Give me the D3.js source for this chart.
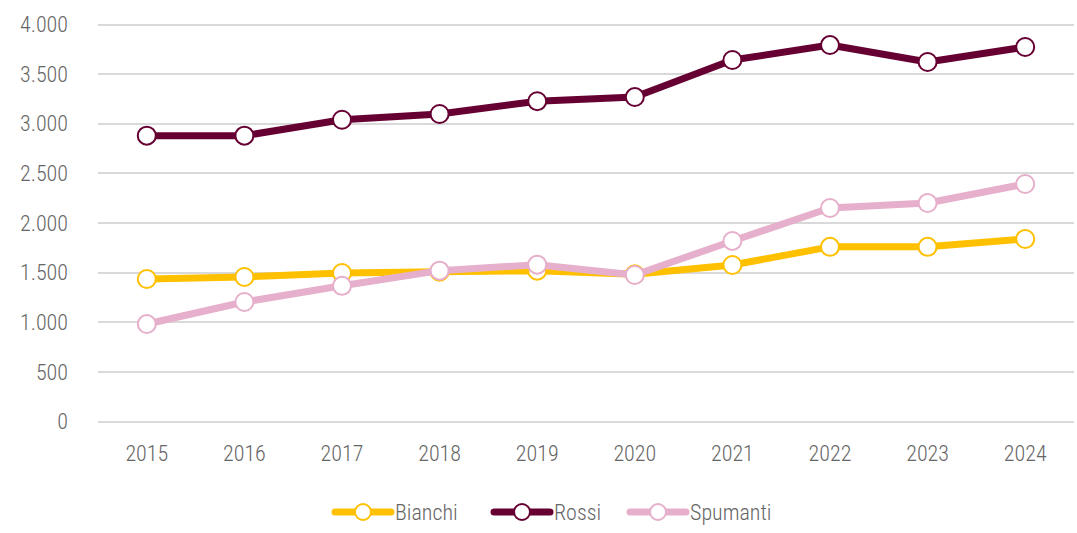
<!DOCTYPE html>
<html>
<head>
<meta charset="utf-8">
<title>Bianchi Rossi Spumanti</title>
<style>
  body { margin: 0; background: #fff; }
  svg text { font-family: "Roboto Condensed", "Liberation Sans Narrow", "Liberation Sans", sans-serif; font-weight: 300; }
  .grid line { stroke: #d9d9d9; stroke-width: 2; shape-rendering: crispEdges; }
  .grid path { display: none; }
  .tick text { fill: #666; font-size: 22px; }
  .legend text { fill: #666; font-size: 22px; }
</style>
</head>
<body>
<svg width="1077" height="533"></svg>
<script src="https://cdn.jsdelivr.net/npm/d3@7"></script>
<script>
var years = ["2015", "2016", "2017", "2018", "2019", "2020", "2021", "2022", "2023", "2024"];
var bianchi = [1431, 1451, 1491, 1505, 1515, 1478, 1572, 1755, 1755, 1834];
var rossi = [2875, 2875, 3035, 3093, 3222, 3264, 3637, 3788, 3617, 3768];
var spumanti = [977, 1199, 1362, 1515, 1575, 1471, 1814, 2146, 2196, 2388];
var yTicks = [0, 500, 1000, 1500, 2000, 2500, 3000, 3500, 4000];

var series = [
  {name: "Bianchi", values: bianchi, color: "#ffc000"},
  {name: "Rossi", values: rossi, color: "#660033"},
  {name: "Spumanti", values: spumanti, color: "#e6afcb"}
];

var svg = d3.select("svg"),
    margin = {top: 24, right: 3, bottom: 112, left: 98},
    width = +svg.attr("width") - margin.left - margin.right,
    height = +svg.attr("height") - margin.top - margin.bottom,
    g = svg.append("g").attr("transform", "translate(" + margin.left + "," + margin.top + ")");

var x = d3.scaleBand().domain(years).range([0, width]);
var y = d3.scaleLinear().domain([0, 4000]).range([height, 0]);

var fmt = function(d) { return d3.format(",")(d).replace(/,/g, "."); };

// gridlines + y labels
var ya = g.append("g")
  .attr("class", "grid")
  .call(d3.axisLeft(y).tickValues(yTicks).tickSize(-width).tickFormat(fmt).tickPadding(30));
ya.selectAll(".tick text").attr("dy", "0.35em");

// x labels
var xa = g.append("g")
  .attr("class", "grid")
  .attr("transform", "translate(0," + height + ")")
  .call(d3.axisBottom(x).tickSize(0).tickPadding(24));

var line = d3.line()
  .x(function(d, i) { return x(years[i]) + x.bandwidth() / 2; })
  .y(function(d) { return y(d); });

series.forEach(function(s) {
  var sg = g.append("g");
  sg.append("path")
    .datum(s.values)
    .attr("fill", "none")
    .attr("stroke", s.color)
    .attr("stroke-width", 7)
    .attr("stroke-linejoin", "round")
    .attr("d", line);
  sg.selectAll("circle")
    .data(s.values)
    .enter().append("circle")
    .attr("cx", function(d, i) { return x(years[i]) + x.bandwidth() / 2; })
    .attr("cy", function(d) { return y(d); })
    .attr("r", 9)
    .attr("fill", "#fff")
    .attr("stroke", s.color)
    .attr("stroke-width", 2);
});

// legend
var legendX = [335, 494, 630];
var legend = svg.append("g").attr("class", "legend")
  .selectAll("g")
  .data(series)
  .enter().append("g")
  .attr("transform", function(d, i) { return "translate(" + legendX[i] + ",512)"; });

legend.append("line")
  .attr("x1", 0).attr("x2", 56)
  .attr("stroke", function(d) { return d.color; })
  .attr("stroke-width", 7)
  .attr("stroke-linecap", "round");
legend.append("circle")
  .attr("cx", 28).attr("r", 8)
  .attr("fill", "#fff")
  .attr("stroke", function(d) { return d.color; })
  .attr("stroke-width", 2);
legend.append("text")
  .attr("x", 60)
  .attr("dy", "0.35em")
  .text(function(d) { return d.name; });
</script>
</body>
</html>
